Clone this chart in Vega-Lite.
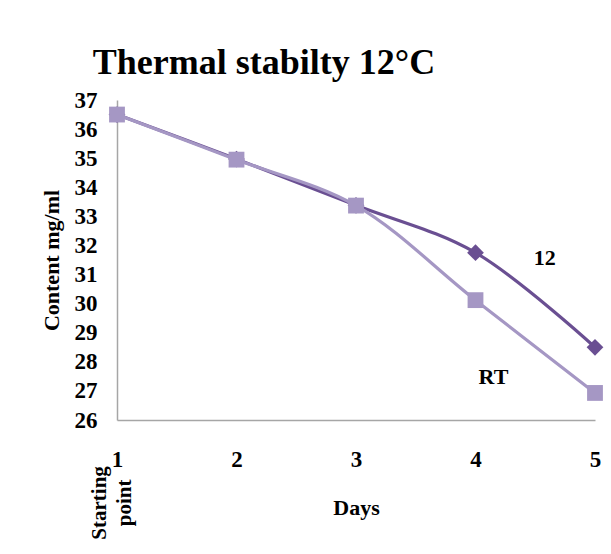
{
  "$schema": "https://vega.github.io/schema/vega-lite/v6.json",
  "autosize": "none",
  "padding": {"left": 117, "top": 100, "right": 16, "bottom": 134},
  "width": 478,
  "height": 320,
  "background": "white",
  "config": {
    "view": {"stroke": null},
    "font": "Liberation Serif"
  },
  "title": {
    "text": "Thermal stabilty 12°C",
    "font": "Liberation Serif",
    "fontWeight": "bold",
    "fontSize": 36,
    "color": "black",
    "anchor": "middle",
    "frame": "group",
    "dx": -92,
    "baseline": "alphabetic",
    "offset": -21
  },
  "datasets": {
    "series": [
      {"day": 1, "content": 36.5, "series": "12"},
      {"day": 2, "content": 34.97, "series": "12"},
      {"day": 3, "content": 33.38, "series": "12"},
      {"day": 4, "content": 31.75, "series": "12"},
      {"day": 5, "content": 28.5, "series": "12"},
      {"day": 1, "content": 36.5, "series": "RT"},
      {"day": 2, "content": 34.95, "series": "RT"},
      {"day": 3, "content": 33.37, "series": "RT"},
      {"day": 4, "content": 30.12, "series": "RT"},
      {"day": 5, "content": 26.93, "series": "RT"}
    ],
    "notes": [
      {"day": 4.58, "content": 31.57, "label": "12"},
      {"day": 4.15, "content": 27.48, "label": "RT"}
    ],
    "start": [
      {"day": 0.86, "content": 23.15, "label": "Starting\npoint"}
    ]
  },
  "encoding": {
    "x": {
      "field": "day",
      "type": "quantitative",
      "scale": {"domain": [1, 5], "nice": false, "zero": false},
      "axis": {
        "values": [1, 2, 3, 4, 5],
        "title": "Days",
        "grid": false,
        "ticks": false,
        "domainColor": "#a6a6a6",
        "domainWidth": 1.5,
        "labelFont": "Liberation Serif",
        "labelFontWeight": "bold",
        "labelFontSize": 23,
        "labelColor": "black",
        "labelPadding": 28,
        "labelFlush": false,
        "titleFont": "Liberation Serif",
        "titleFontWeight": "bold",
        "titleFontSize": 22,
        "titleColor": "black",
        "titleBaseline": "middle",
        "titleY": 87
      }
    },
    "y": {
      "field": "content",
      "type": "quantitative",
      "scale": {"domain": [26, 37], "nice": false, "zero": false},
      "axis": {
        "values": [26, 27, 28, 29, 30, 31, 32, 33, 34, 35, 36, 37],
        "title": "Content mg/ml",
        "grid": false,
        "ticks": false,
        "domainColor": "#a6a6a6",
        "domainWidth": 1.5,
        "labelFont": "Liberation Serif",
        "labelFontWeight": "bold",
        "labelFontSize": 23,
        "labelColor": "black",
        "labelPadding": 20,
        "labelFlush": false,
        "titleFont": "Liberation Serif",
        "titleFontWeight": "bold",
        "titleFontSize": 22,
        "titleColor": "black",
        "titleAngle": -90,
        "titleAlign": "center",
        "titleBaseline": "middle",
        "titleX": -66,
        "titleY": 160
      }
    }
  },
  "layer": [
    {
      "data": {"name": "series"},
      "mark": {"type": "line", "interpolate": "catmull-rom", "strokeWidth": 3.2},
      "encoding": {
        "color": {
          "field": "series",
          "type": "nominal",
          "scale": {"domain": ["12", "RT"], "range": ["#6a4f92", "#a597c4"]},
          "legend": null
        }
      }
    },
    {
      "data": {"name": "series"},
      "mark": {"type": "point", "filled": true, "opacity": 1, "strokeWidth": 0},
      "encoding": {
        "color": {
          "field": "series",
          "type": "nominal",
          "scale": {"domain": ["12", "RT"], "range": ["#6a4f92", "#a597c4"]},
          "legend": null
        },
        "shape": {
          "field": "series",
          "type": "nominal",
          "scale": {"domain": ["12", "RT"], "range": ["diamond", "square"]},
          "legend": null
        },
        "size": {
          "field": "series",
          "type": "nominal",
          "scale": {"domain": ["12", "RT"], "range": [280, 250]},
          "legend": null
        }
      }
    },
    {
      "data": {"name": "notes"},
      "mark": {"type": "text", "font": "Liberation Serif", "fontWeight": "bold", "fontSize": 22, "color": "black", "align": "center", "baseline": "middle"},
      "encoding": {"text": {"field": "label"}}
    },
    {
      "data": {"name": "start"},
      "mark": {"type": "text", "font": "Liberation Serif", "fontWeight": "bold", "fontSize": 21, "color": "black", "align": "center", "baseline": "middle", "angle": 270, "lineBreak": "\n", "lineHeight": 25},
      "encoding": {"text": {"field": "label"}}
    }
  ]
}
